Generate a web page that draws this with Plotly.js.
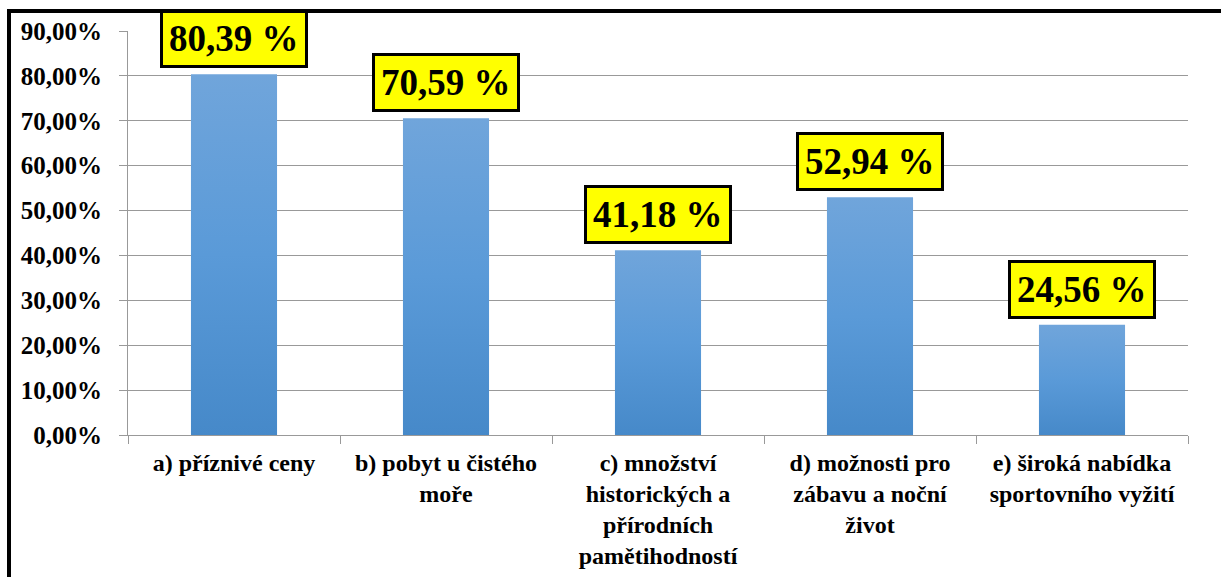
<!DOCTYPE html>
<html>
<head>
<meta charset="utf-8">
<script src="https://cdn.plot.ly/plotly-3.0.1.min.js"></script>
<style>
  html, body { margin: 0; padding: 0; background: #fff; }
  #wrap { position: relative; width: 1221px; height: 577px; overflow: hidden; }
  #chart { width: 1221px; height: 577px; }
  #frame { position: absolute; left: 7px; top: 9px; width: 1300px; height: 700px;
           border-top: 4px solid #000; border-left: 4px solid #000; pointer-events: none; }
</style>
</head>
<body>
<div id="wrap">
  <div id="chart"></div>
  <div id="frame"></div>
</div>
<script>
const categories = [
  "a) příznivé ceny",
  "b) pobyt u čistého<br>moře",
  "c) množství<br>historických a<br>přírodních<br>pamětihodností",
  "d) možnosti pro<br>zábavu a noční<br>život",
  "e) široká nabídka<br>sportovního vyžití"
];
const values = [80.39, 70.59, 41.18, 52.94, 24.56];
const valueLabels = ["80,39 %", "70,59 %", "41,18 %", "52,94 %", "24,56 %"];
const yTickVals = [0, 10, 20, 30, 40, 50, 60, 70, 80, 90];
const yTickText = ["0,00%", "10,00%", "20,00%", "30,00%", "40,00%", "50,00%", "60,00%", "70,00%", "80,00%", "90,00%"];

const FONT_FAMILY = "Liberation Serif";

const trace = {
  type: "bar",
  x: categories,
  y: values,
  marker: { color: "#5b9bd5" },
  hoverinfo: "none"
};

const annotations = categories.map((c, i) => ({
  x: c, y: values[i], xref: "x", yref: "y",
  text: valueLabels[i],
  showarrow: false,
  yanchor: "bottom",
  yshift: 6,
  bgcolor: "#ffff00",
  bordercolor: "#000000",
  borderwidth: 3,
  borderpad: 6,
  font: { family: FONT_FAMILY, size: 37, color: "#000000", weight: "bold" }
}));

const layout = {
  width: 1221, height: 577,
  margin: { l: 128, r: 33, t: 31, b: 142 },
  showlegend: false,
  bargap: 0.594,
  font: { family: FONT_FAMILY, color: "#000000" },
  xaxis: {
    type: "category",
    tickson: "boundaries",
    ticks: "outside", ticklen: 8, tickcolor: "#999999",
    showline: true, linecolor: "#999999",
    showgrid: false,
    tickfont: { family: FONT_FAMILY, size: 24, color: "#000000", weight: "bold" },
    ticklabelstandoff: 6
  },
  yaxis: {
    range: [0, 90],
    tickmode: "array", tickvals: yTickVals, ticktext: yTickText,
    ticks: "outside", ticklen: 8, tickcolor: "#999999",
    showline: true, linecolor: "#999999",
    gridcolor: "#999999",
    zeroline: false,
    tickfont: { family: FONT_FAMILY, size: 25, color: "#000000", weight: "bold" },
    ticklabelstandoff: 12
  },
  annotations: annotations
};

Plotly.newPlot("chart", [trace], layout, { displayModeBar: false }).then(gd => {
  const svg = gd.querySelector("svg.main-svg");
  const ns = "http://www.w3.org/2000/svg";
  let defs = svg.querySelector("defs");
  if (!defs) { defs = document.createElementNS(ns, "defs"); svg.insertBefore(defs, svg.firstChild); }
  const grad = document.createElementNS(ns, "linearGradient");
  grad.setAttribute("id", "barGrad");
  grad.setAttribute("x1", "0"); grad.setAttribute("y1", "0");
  grad.setAttribute("x2", "0"); grad.setAttribute("y2", "1");
  [["0%", "#70a5db"], ["50%", "#5a9ad8"], ["100%", "#4689c9"]].forEach(([o, c]) => {
    const s = document.createElementNS(ns, "stop");
    s.setAttribute("offset", o); s.setAttribute("stop-color", c);
    grad.appendChild(s);
  });
  defs.appendChild(grad);
  gd.querySelectorAll(".bars .point path").forEach(p => {
    p.style.fill = "url(#barGrad)";
  });
});
</script>
</body>
</html>
